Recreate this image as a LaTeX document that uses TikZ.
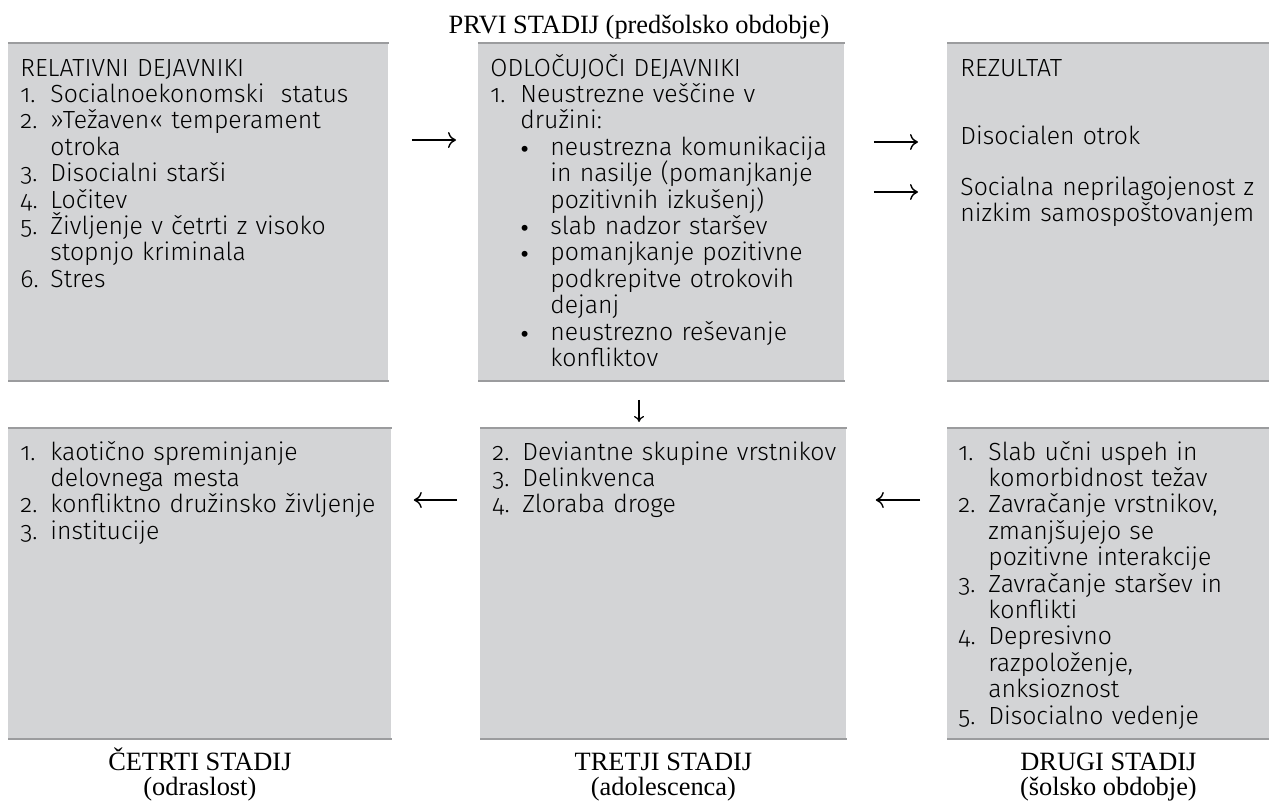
\documentclass[tikz,border=0pt]{standalone}
\usepackage{fontspec}
\setmainfont{Liberation Serif}
\setsansfont{Fira Sans Light}[Numbers=OldStyle]
\usetikzlibrary{arrows.meta}

\definecolor{boxgray}{HTML}{D3D4D6}
\definecolor{rulegray}{HTML}{9B9C9E}

% numbered and bulleted lines inside the boxes
\newcommand\nitem[2]{\hangindent=15pt\hangafter=1\noindent\makebox[15pt][l]{#1}#2\par}
\newcommand\bitem[1]{\hangindent=30pt\hangafter=1\noindent\hspace*{15pt}\makebox[15pt][l]{\raisebox{-1pt}{\rmfamily •}}#1\par}

\begin{document}
\begin{tikzpicture}[x=0.5pt,y=-0.5pt,
  box/.style={fill=boxgray,inner sep=0pt,anchor=north west},
  rule/.style={draw=rulegray,line width=1pt},
  txt/.style={anchor=base west,inner sep=0pt,align=left,font=\sffamily\fontsize{12.4}{13.2}\selectfont},
  stagecap/.style={anchor=base,inner sep=0pt,font=\rmfamily\fontsize{13.2}{14}\selectfont},
  arr/.style={-{To[length=4pt,width=8pt]},line width=.7pt},
  darr/.style={-{To[length=3pt,width=5pt]},line width=.6pt}]
\useasboundingbox (0,0) rectangle (1269,805);

% boxes
\node[box,minimum width=190pt,minimum height=168.5pt] (rel) at (8,43) {};
\node[box,minimum width=183pt,minimum height=168.5pt] (odl) at (478,43) {};
\node[box,minimum width=161pt,minimum height=168.5pt] (rez) at (947,43) {};
\node[box,minimum width=191.5pt,minimum height=155pt] (cet) at (8,428) {};
\node[box,minimum width=183pt,minimum height=155pt] (tre) at (480,428) {};
\node[box,minimum width=161pt,minimum height=155pt] (dru) at (947,428) {};
\foreach \b in {rel,odl,rez,cet,tre,dru}{
  \draw[rule] (\b.north west) -- (\b.north east);
  \draw[rule] (\b.south west) -- (\b.south east);
}

% texts
\node[txt,text width=182pt] (relT) at (20,76) {RELATIVNI DEJAVNIKI\par
  \nitem{1.}{Socialnoekonomski\ \ status}
  \nitem{2.}{»Težaven« temperament\newline otroka}
  \nitem{3.}{Disocialni starši}
  \nitem{4.}{Ločitev}
  \nitem{5.}{Življenje v četrti z visoko\newline stopnjo kriminala}
  \nitem{6.}{Stres}};
\node[txt,text width=176pt] (odlT) at (490,76) {ODLOČUJOČI DEJAVNIKI\par
  \nitem{1.}{Neustrezne veščine v\newline družini:}
  \bitem{neustrezna komunikacija\newline in nasilje (pomanjkanje\newline pozitivnih izkušenj)}
  \bitem{slab nadzor staršev}
  \bitem{pomanjkanje pozitivne\newline podkrepitve otrokovih\newline dejanj}
  \bitem{neustrezno reševanje\newline konfliktov}};
\node[txt,text width=154pt] (rezT) at (960,76) {REZULTAT};
\node[txt,text width=154pt] (dis) at (960,144) {Disocialen otrok};
\node[txt,text width=154pt] (soc) at (960,195) {Socialna neprilagojenost z\newline nizkim samospoštovanjem};
\node[txt,text width=182pt] (cetT) at (20,460) {%
  \nitem{1.}{kaotično spreminjanje\newline delovnega mesta}
  \nitem{2.}{konfliktno družinsko življenje}
  \nitem{3.}{institucije}};
\node[txt,text width=176pt] (treT) at (492,460) {%
  \nitem{2.}{Deviantne skupine vrstnikov}
  \nitem{3.}{Delinkvenca}
  \nitem{4.}{Zloraba droge}};
\node[txt,text width=154pt] (druT) at (958,460) {%
  \nitem{1.}{Slab učni uspeh in\newline komorbidnost težav}
  \nitem{2.}{Zavračanje vrstnikov,\newline zmanjšujejo se\newline pozitivne interakcije}
  \nitem{3.}{Zavračanje staršev in\newline konflikti}
  \nitem{4.}{Depresivno\newline razpoloženje,\newline anksioznost}
  \nitem{5.}{Disocialno vedenje}};

% stage captions
\coordinate (capA) at (0,770);
\coordinate (capB) at (0,795);
\node[stagecap] (prvi) at (639,33) {PRVI STADIJ (predšolsko obdobje)};
\node[stagecap] (cetC) at (cet.south |- capA) {ČETRTI STADIJ};
\node[stagecap] (cetP) at (cet.south |- capB) {(odraslost)};
\node[stagecap] (treC) at (tre.south |- capA) {TRETJI STADIJ};
\node[stagecap] (treP) at (tre.south |- capB) {(adolescenca)};
\node[stagecap] (druC) at (dru.south |- capA) {DRUGI STADIJ};
\node[stagecap] (druP) at (dru.south |- capB) {(šolsko obdobje)};

% arrows
\coordinate (lvA) at (0,140);
\coordinate (lvB) at (0,142);
\coordinate (lvC) at (0,192);
\coordinate (lvD) at (0,500);
\coordinate (mid) at (639,0);
\draw[arr,shorten <=11.5pt,shorten >=11pt] (rel.east |- lvA) -- (odl.west |- lvA);
\draw[arr,shorten <=14.5pt,shorten >=14.5pt] (odl.east |- lvB) -- (rez.west |- lvB);
\draw[arr,shorten <=14.5pt,shorten >=14.5pt] (odl.east |- lvC) -- (rez.west |- lvC);
\draw[darr,shorten <=9.5pt,shorten >=3pt] (odl.south -| mid) -- (tre.north -| mid);
\draw[arr,shorten <=13.5pt,shorten >=14.5pt] (dru.west |- lvD) -- (tre.east |- lvD);
\draw[arr,shorten <=11.5pt,shorten >=11pt] (tre.west |- lvD) -- (cet.east |- lvD);
\end{tikzpicture}
\end{document}
